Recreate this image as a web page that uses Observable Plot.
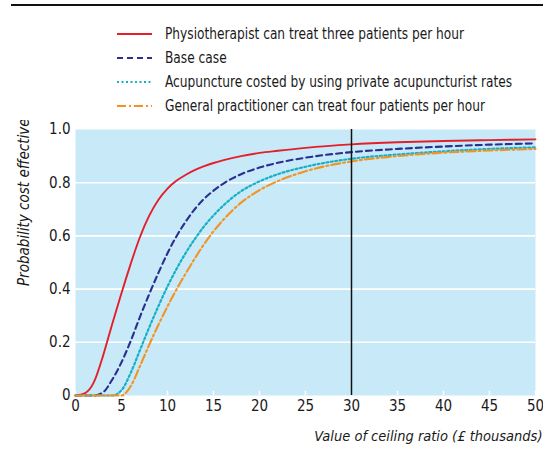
<!DOCTYPE html>
<html>
<head>
<meta charset="utf-8">
<script src="https://cdn.jsdelivr.net/npm/d3@7"></script>
<script src="https://cdn.jsdelivr.net/npm/@observablehq/plot@0.6"></script>
<style>
  body { margin:0; background:#fff; font-family:"Liberation Sans Narrow","DejaVu Sans Condensed",sans-serif; color:#1a1a1a; }
  #head { position:relative; width:543px; height:120px; }
  #rule { position:absolute; left:11px; right:0; top:4px; height:2px; background:#111; }
  .row { position:absolute; left:117px; height:20px; display:flex; align-items:center; font-size:15.5px; white-space:nowrap; }
  .row svg { width:35px; height:6px; margin-right:13px; flex:none; }
  .row span { display:inline-block; transform:scaleX(0.875); transform-origin:left center; }
</style>
</head>
<body>
<div id="head"><div id="rule"></div></div>
<div id="chart"></div>
<script>
// Ceiling ratio (£ thousands)
const ratio = [0,1,2,3,4,5,6,7,8,9,10,11,12,13,14,15,16,18,20,22,25,30,35,40,45,50];
const seriesNames = [
  "Physiotherapist can treat three patients per hour",
  "Base case",
  "Acupuncture costed by using private acupuncturist rates",
  "General practitioner can treat four patients per hour"
];
const physio   = [0,0.008,0.05,0.15,0.27,0.385,0.495,0.595,0.675,0.735,0.778,0.808,0.83,0.848,0.862,0.874,0.884,0.9,0.912,0.92,0.931,0.944,0.952,0.957,0.960,0.963];
const baseCase = [0,0,0,0.012,0.06,0.125,0.205,0.295,0.38,0.46,0.535,0.6,0.655,0.702,0.74,0.77,0.795,0.832,0.857,0.875,0.894,0.915,0.927,0.936,0.943,0.948];
const acupunct = [0,0,0,0,0,0.02,0.085,0.17,0.255,0.335,0.41,0.477,0.537,0.59,0.637,0.677,0.712,0.768,0.805,0.832,0.86,0.89,0.906,0.918,0.927,0.933];
const gpFour   = [0,0,0,0,0,0,0.035,0.11,0.19,0.265,0.335,0.4,0.46,0.517,0.57,0.617,0.658,0.725,0.772,0.806,0.843,0.88,0.9,0.913,0.921,0.927];
const xTicks = [0,5,10,15,20,25,30,35,40,45,50];
const yTicks = [0,0.2,0.4,0.6,0.8,1.0];
const ceilingMarker = [30];

const allSeries = [physio, baseCase, acupunct, gpFour];
const styles = [
  {stroke:"#e41f2a", dash:null, width:1.9},
  {stroke:"#2b2f8f", dash:"6,4", width:2.1},
  {stroke:"#19b0c6", dash:"2,2.5", width:2.2},
  {stroke:"#f39322", dash:"9,3,2,3", width:2.1}
];

const FONT = '"Liberation Sans Narrow","DejaVu Sans Condensed",sans-serif';

// legend
const head = document.getElementById("head");
seriesNames.forEach((name, i) => {
  const row = document.createElement("div");
  row.className = "row";
  row.style.top = (24 + i * 24) + "px";
  const s = styles[i];
  row.innerHTML = `<svg viewBox="0 0 35 6"><line x1="0" y1="3" x2="35" y2="3" stroke="${s.stroke}" stroke-width="${s.width}" ${s.dash ? `stroke-dasharray="${s.dash}"` : ""}/></svg><span>${name}</span>`;
  head.appendChild(row);
});

const rows = [];
allSeries.forEach((vals, i) => vals.forEach((v, j) => rows.push({series: i, x: ratio[j], y: v})));

const lineMarks = allSeries.map((vals, i) =>
  Plot.line(rows.filter(d => d.series === i), {
    x: "x", y: "y", curve: "monotone-x",
    stroke: styles[i].stroke, strokeWidth: styles[i].width,
    strokeDasharray: styles[i].dash || undefined
  })
);

const chart = Plot.plot({
  width: 543, height: 332,
  marginLeft: 75, marginRight: 8, marginTop: 9, marginBottom: 57,
  style: {fontFamily: FONT, fontSize: "15px", color: "#1a1a1a", background: "transparent"},
  x: {domain: [0, 50]},
  y: {domain: [0, 1]},
  marks: [
    Plot.frame({fill: "#c8e9f8", stroke: null}),
    Plot.ruleY(yTicks.filter(d => d > 0 && d < 1), {stroke: "white", strokeWidth: 1.6}),
    Plot.ruleX(xTicks, {y1: 0, y2: 0.016, stroke: "white", strokeWidth: 1.6}),
    Plot.axisX(xTicks, {tickSize: 0, tickPadding: 5, label: null, fontSize: 15}),
    Plot.axisY(yTicks, {tickSize: 0, tickPadding: 5, label: null, fontSize: 15,
      tickFormat: d => d === 0 ? "0" : d.toFixed(1)}),
    ...lineMarks,
    Plot.ruleX(ceilingMarker, {stroke: "#111", strokeWidth: 1.5}),
    Plot.text(["Value of ceiling ratio (£ thousands)"], {
      frameAnchor: "bottom-right", textAnchor: "end", dx: 7, dy: 45,
      fontStyle: "italic", fontSize: 14.5, fill: "#1a1a1a"
    }),
    Plot.text(["Probability cost effective"], {
      frameAnchor: "top-left", textAnchor: "end", rotate: -90, dx: -57, dy: -11,
      fontStyle: "italic", fontSize: 15, fill: "#1a1a1a"
    })
  ]
});
document.getElementById("chart").appendChild(chart);
</script>
</body>
</html>
